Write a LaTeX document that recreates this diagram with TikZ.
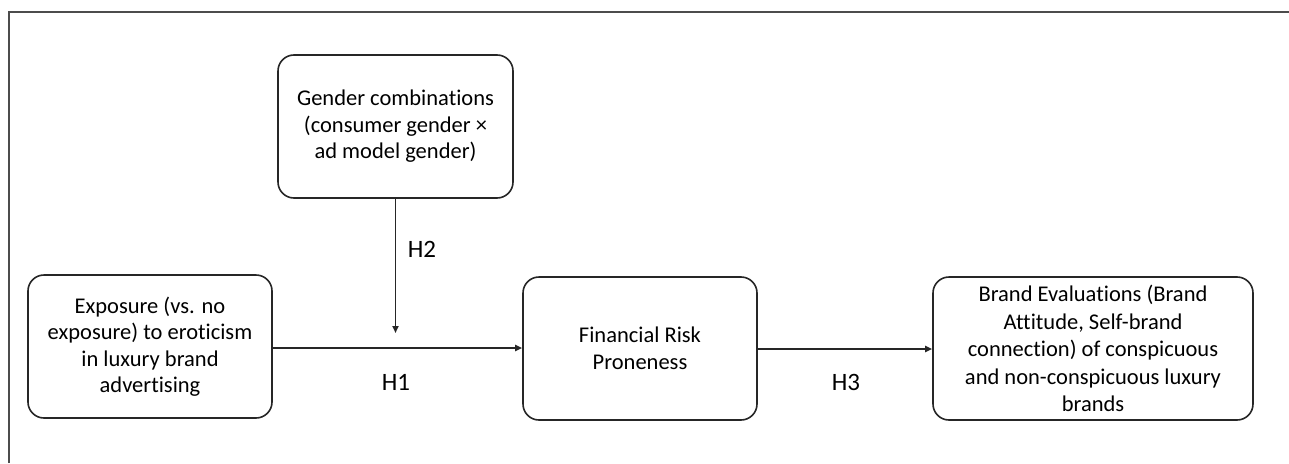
\documentclass[tikz,border=0pt]{standalone}
\usepackage{fontspec}
\setmainfont{Carlito}[Ligatures={NoCommon}]
\usetikzlibrary{arrows.meta}
\tikzset{
  box/.style={draw=black!85, line width=1.6pt, rounded corners=16pt, align=center,
    inner sep=0pt, font=\fontsize{22.5}{26.5}\selectfont},
  conn/.style={draw=black!85, line width=1.7pt, -{Triangle[length=7pt,width=6pt]}},
  lbl/.style={font=\fontsize{25}{28}\selectfont, inner sep=0pt}
}
\begin{document}
\begin{tikzpicture}[x=1pt,y=-1pt]
\useasboundingbox (0,0) rectangle (1289,463);
\draw[black!70, line width=1.8pt] (9,463) -- (9,12) -- (1289,12);
\node[box, minimum width=235pt, minimum height=143pt] (gender) at (395.5,126.5)
  {Gender combinations\\(consumer gender ×\\ad model gender)};
\node[box, minimum width=244pt, minimum height=143pt] (expo) at (150,346.5)
  {Exposure (vs. no\\exposure) to eroticism\\in luxury brand\\advertising};
\node[box, minimum width=234pt, minimum height=143pt] (fin) at (640,348.5)
  {Financial Risk\\Proneness};
\node[box, minimum width=320pt, minimum height=143pt, font=\fontsize{22.5}{27.5}\selectfont] (brand) at (1093,348.5)
  {Brand Evaluations (Brand\\Attitude, Self-brand\\connection) of conspicuous\\and non-conspicuous luxury\\brands};
\coordinate (j) at (gender.south |- 0,333);
\draw[conn] (gender.south) -- (j);
\draw[conn] (expo.east |- 0,348) -- (fin.west |- 0,348);
\draw[conn] (fin.east |- 0,349) -- (brand.west |- 0,349);
\node[lbl] (h2) at (422,249) {H2};
\node[lbl] (h1) at (396,382) {H1};
\node[lbl] (h3) at (846,382) {H3};
\end{tikzpicture}
\end{document}
